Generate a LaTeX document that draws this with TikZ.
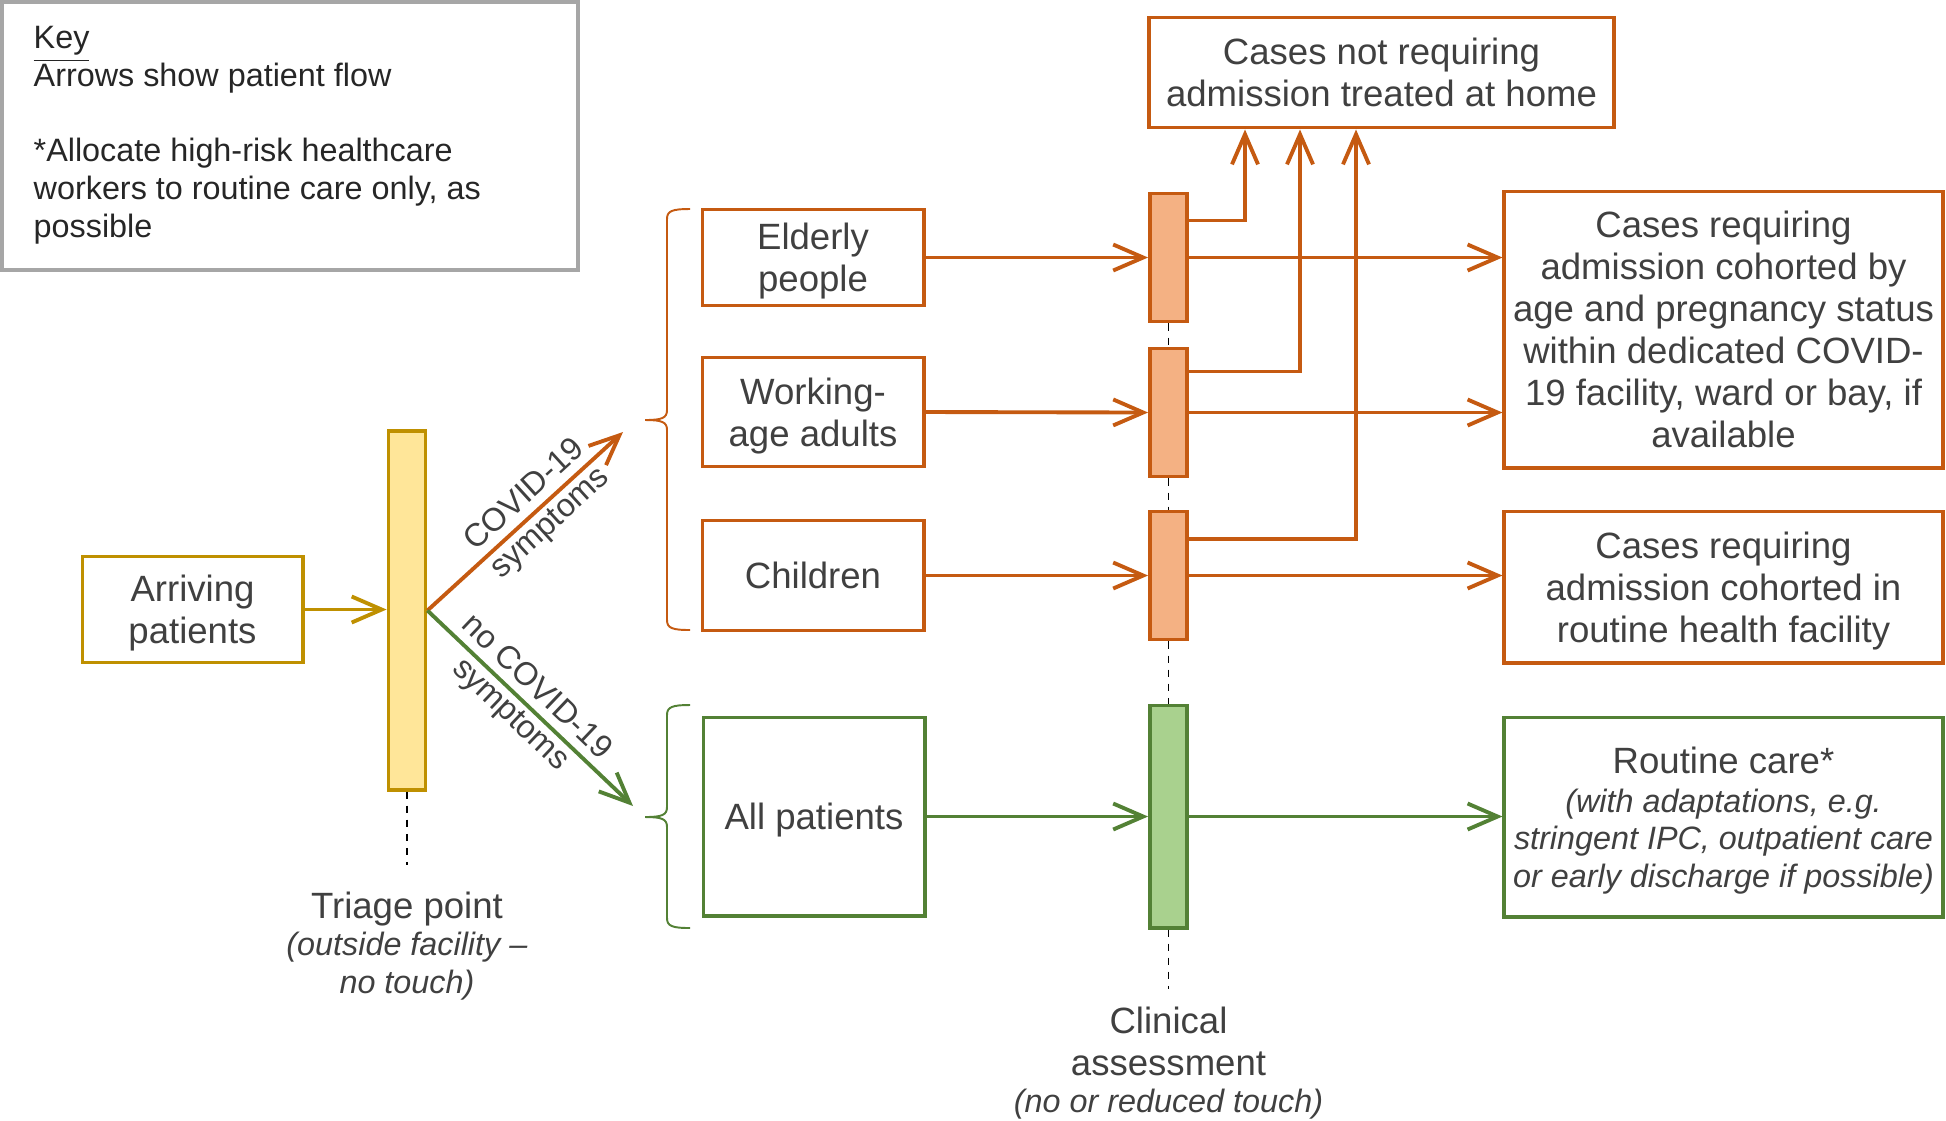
\documentclass[tikz,border=0pt]{standalone}
\usepackage{fontspec}
\setmainfont{Liberation Sans}
\usetikzlibrary{arrows.meta}

\definecolor{txtgray}{HTML}{404040}
\definecolor{keygray}{HTML}{A6A6A6}
\definecolor{covorange}{HTML}{C55A11}
\definecolor{covfill}{HTML}{F4B183}
\definecolor{okgreen}{HTML}{538135}
\definecolor{okfill}{HTML}{A9D18E}
\definecolor{triagegold}{HTML}{BF9000}
\definecolor{triagefill}{HTML}{FFE699}

\newcommand{\bigtxt}{\fontsize{10.4}{11.95}\selectfont}
\newcommand{\smalltxt}{\fontsize{9.2}{10.7}\selectfont}
% bracket: colour, top, tip, bottom
\newcommand{\sidebrace}[4]{%
  \draw[#1,line width=0.55pt] (690,#2) .. controls (672,#2) and (667,#2+2) .. (667,#2+10)
    -- (667,#3-10) .. controls (667,#3-2) and (662,#3) .. (645,#3)
    .. controls (662,#3) and (667,#3+2) .. (667,#3+10)
    -- (667,#4-10) .. controls (667,#4-2) and (672,#4) .. (690,#4);}

\begin{document}
\begin{tikzpicture}[x=0.01cm,y=-0.01cm,
  every node/.style={text=txtgray,inner sep=2pt},
  box/.style={draw,line width=1.1pt,fill=white,align=center,font=\bigtxt,text depth=0pt},
  obox/.style={box,draw=covorange},
  gbox/.style={box,draw=okgreen},
  ybox/.style={box,draw=triagegold},
  bar/.style={draw,line width=1.1pt,minimum width=0.37cm,inner sep=0pt},
  obar/.style={bar,draw=covorange,fill=covfill},
  gbar/.style={bar,draw=okgreen,fill=okfill},
  flow/.style={line width=1.1pt,-{Straight Barb[length=0.3cm,width=0.26cm]}},
  oarr/.style={flow,draw=covorange},
  garr/.style={flow,draw=okgreen},
  yarr/.style={flow,draw=triagegold},
  dashline/.style={black,line width=0.5pt,dash pattern=on 2pt off 2pt}]

\useasboundingbox (0,0) rectangle (1946,1120);

\node[draw=keygray,line width=1.1pt,minimum width=5.76cm,minimum height=2.68cm] (key) at (290,136) {};
\node[anchor=north west,align=left,font=\smalltxt,inner sep=0pt,text=black!85] (keytext) at (33,26)
  {\underline{Key}\\Arrows show patient flow\\[10.7pt]*Allocate high-risk healthcare\\workers to routine care only, as\\possible};

\node[ybox,minimum width=2.2cm,minimum height=1.06cm] (arriving) at (192.5,609.5) {Arriving\\patients};
\node[bar,draw=triagegold,fill=triagefill,minimum height=3.58cm] (triage) at (407,610.5) {};
\coordinate (triageend) at (407,865);
\node[anchor=north,align=center,font=\smalltxt,inner sep=0pt] (triagelabel) at (407,891)
  {{\bigtxt Triage point}\\\textit{(outside facility –}\\\textit{no touch)}};

\node[obox,minimum width=2.21cm,minimum height=0.96cm] (elderly) at (813,257.5) {Elderly\\people};
\node[obox,minimum width=2.21cm,minimum height=1.09cm] (working) at (813,412) {Working-\\age adults};
\node[obox,minimum width=2.21cm,minimum height=1.10cm] (children) at (813,575.5) {Children};
\node[gbox,minimum width=2.21cm,minimum height=1.98cm] (allpat) at (814,816.5) {All patients};

\node[obar,minimum height=1.28cm] (bar1) at (1168.5,257.5) {};
\node[obar,minimum height=1.28cm] (bar2) at (1168.5,412.5) {};
\node[obar,minimum height=1.28cm] (bar3) at (1168.5,575.5) {};
\node[gbar,minimum height=2.22cm] (bar4) at (1168.5,816.5) {};
\coordinate (clinend) at (1168.5,989);
\node[anchor=north,align=center,font=\smalltxt,inner sep=0pt] (cliniclabel) at (1168.5,1006)
  {{\bigtxt Clinical}\\[1.2pt]{\bigtxt assessment}\\\textit{(no or reduced touch)}};

\node[obox,minimum width=4.64cm,minimum height=1.10cm] (home) at (1381.5,72.5) {Cases not requiring\\admission treated at home};
\node[obox,minimum width=4.38cm,minimum height=2.76cm] (cohort1) at (1723.5,329.5)
  {Cases requiring\\admission cohorted by\\age and pregnancy status\\within dedicated COVID-\\19 facility, ward or bay, if\\available};
\node[obox,minimum width=4.38cm,minimum height=1.51cm] (cohort2) at (1723.5,587)
  {Cases requiring\\admission cohorted in\\routine health facility};
\node[gbox,minimum width=4.38cm,minimum height=1.99cm,font=\smalltxt] (routine) at (1723.5,817)
  {{\bigtxt Routine care*}\\[0.4pt]\textit{(with adaptations, e.g.}\\\textit{stringent IPC, outpatient care}\\\textit{or early discharge if possible)}};

\coordinate (covtip) at (623,432);
\coordinate (nocovtip) at (633,806);

\draw[yarr] (arriving.east) -- (arriving.east -| triage.west);
\draw[oarr] (triage.east) -- node[pos=0.565,sloped,align=center,font=\smalltxt] {COVID-19\\symptoms} (covtip);
\draw[garr] (triage.east) -- node[pos=0.465,sloped,align=center,font=\smalltxt] {no COVID-19\\symptoms} (nocovtip);
\draw[dashline] (triage.south) -- (triageend);

\sidebrace{covorange}{209}{420}{630}
\sidebrace{okgreen}{705}{817}{928}

\draw[oarr] (elderly.east) -- (bar1.west);
\draw[oarr] (working.east) -- (bar2.west);
\draw[oarr] (children.east) -- (bar3.west);
\draw[garr] (allpat.east) -- (bar4.west);

\draw[oarr] (bar1.east) -- (bar1.east -| cohort1.west);
\draw[oarr] (bar2.east) -- (bar2.east -| cohort1.west);
\draw[oarr] (bar3.east) -- (bar3.east -| cohort2.west);
\draw[garr] (bar4.east) -- (bar4.east -| routine.west);

\draw[oarr] ([yshift=-0.29cm]bar1.north east) -| (1245,0 |- home.south);
\draw[oarr] ([yshift=-0.25cm]bar2.north east) -| (1300,0 |- home.south);
\draw[oarr] ([yshift=-0.29cm]bar3.north east) -| (1356,0 |- home.south);

\draw[dashline] (bar1.south) -- (bar2.north);
\draw[dashline] (bar2.south) -- (bar3.north);
\draw[dashline] (bar3.south) -- (bar4.north);
\draw[dashline] (bar4.south) -- (clinend);

\end{tikzpicture}
\end{document}
